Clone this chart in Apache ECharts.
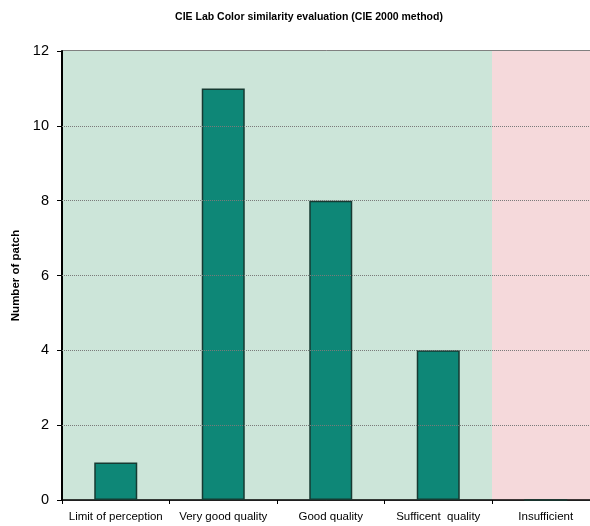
<!DOCTYPE html>
<html>
<head>
<meta charset="utf-8">
<script src="https://cdn.jsdelivr.net/npm/echarts@6/dist/echarts.min.js"></script>
<style>
  html, body { margin: 0; padding: 0; background: #ffffff; }
  #chart { width: 590px; height: 526px; }
</style>
</head>
<body>
<div id="chart"></div>
<script>
// Quality classes of the CIE 2000 colour difference
const categories = ['Limit of perception', 'Very good quality', 'Good quality', 'Sufficent  quality', 'Insufficient'];
// Number of patches in each class
const patchCounts = [1, 11, 8, 4, 0];
// Y axis range
const yMin = 0;
const yMax = 12;
const yStep = 2;
// Inner horizontal guide lines
const guideValues = [2, 4, 6, 8, 10];

const chart = echarts.init(document.getElementById('chart'), null, { renderer: 'canvas' });

const font = 'Liberation Sans, Arial, sans-serif';

chart.setOption({
  animation: false,
  title: {
    text: 'CIE Lab Color similarity evaluation (CIE 2000 method)',
    left: 304,
    textAlign: 'center',
    top: 7,
    textStyle: { fontFamily: font, fontSize: 10.5, fontWeight: 'bold', color: '#000' }
  },
  grid: {
    left: 62,
    top: 51,
    bottom: 26,
    width: 537.5,
    outerBoundsMode: 'none',
    containLabel: false,
    show: true,
    borderColor: '#000',
    borderWidth: 1,
    backgroundColor: 'transparent'
  },
  xAxis: {
    type: 'category',
    data: categories,
    axisLine: { show: true, lineStyle: { color: '#000', width: 1.5 } },
    axisTick: { show: true, alignWithLabel: false, length: 4, lineStyle: { color: '#000' } },
    axisLabel: { fontFamily: font, fontSize: 11.5, color: '#000', margin: 11, interval: 0 },
    splitLine: { show: false },
    splitArea: {
      show: true,
      areaStyle: { color: ['#cce5d9', '#cce5d9', '#cce5d9', '#cce5d9', '#f5d9db'] }
    }
  },
  yAxis: {
    type: 'value',
    min: yMin,
    max: yMax,
    interval: yStep,
    name: 'Number of patch',
    nameLocation: 'middle',
    nameGap: 40,
    nameRotate: 90,
    nameTextStyle: { fontFamily: font, fontSize: 11.5, fontWeight: 'bold', color: '#000' },
    axisLine: { show: true, lineStyle: { color: '#000', width: 2 } },
    axisTick: { show: true, length: 5, lineStyle: { color: '#000' } },
    axisLabel: { fontFamily: font, fontSize: 14.5, color: '#000', margin: 13 },
    splitLine: { show: false }
  },
  series: [
    {
      // dotted horizontal guides, kept underneath the bars
      type: 'line',
      data: [],
      z: 1,
      silent: true,
      markLine: {
        silent: true,
        symbol: ['none', 'none'],
        label: { show: false },
        lineStyle: { color: '#7a7a7a', width: 1, type: [1, 1] },
        data: guideValues.map(v => ({ yAxis: v }))
      }
    },
    {
      type: 'bar',
      data: patchCounts,
      barWidth: '40%',
      itemStyle: { color: '#0e8777', borderColor: '#163a32', borderWidth: 1.5 },
      z: 3
    }
  ]
});
</script>
</body>
</html>
